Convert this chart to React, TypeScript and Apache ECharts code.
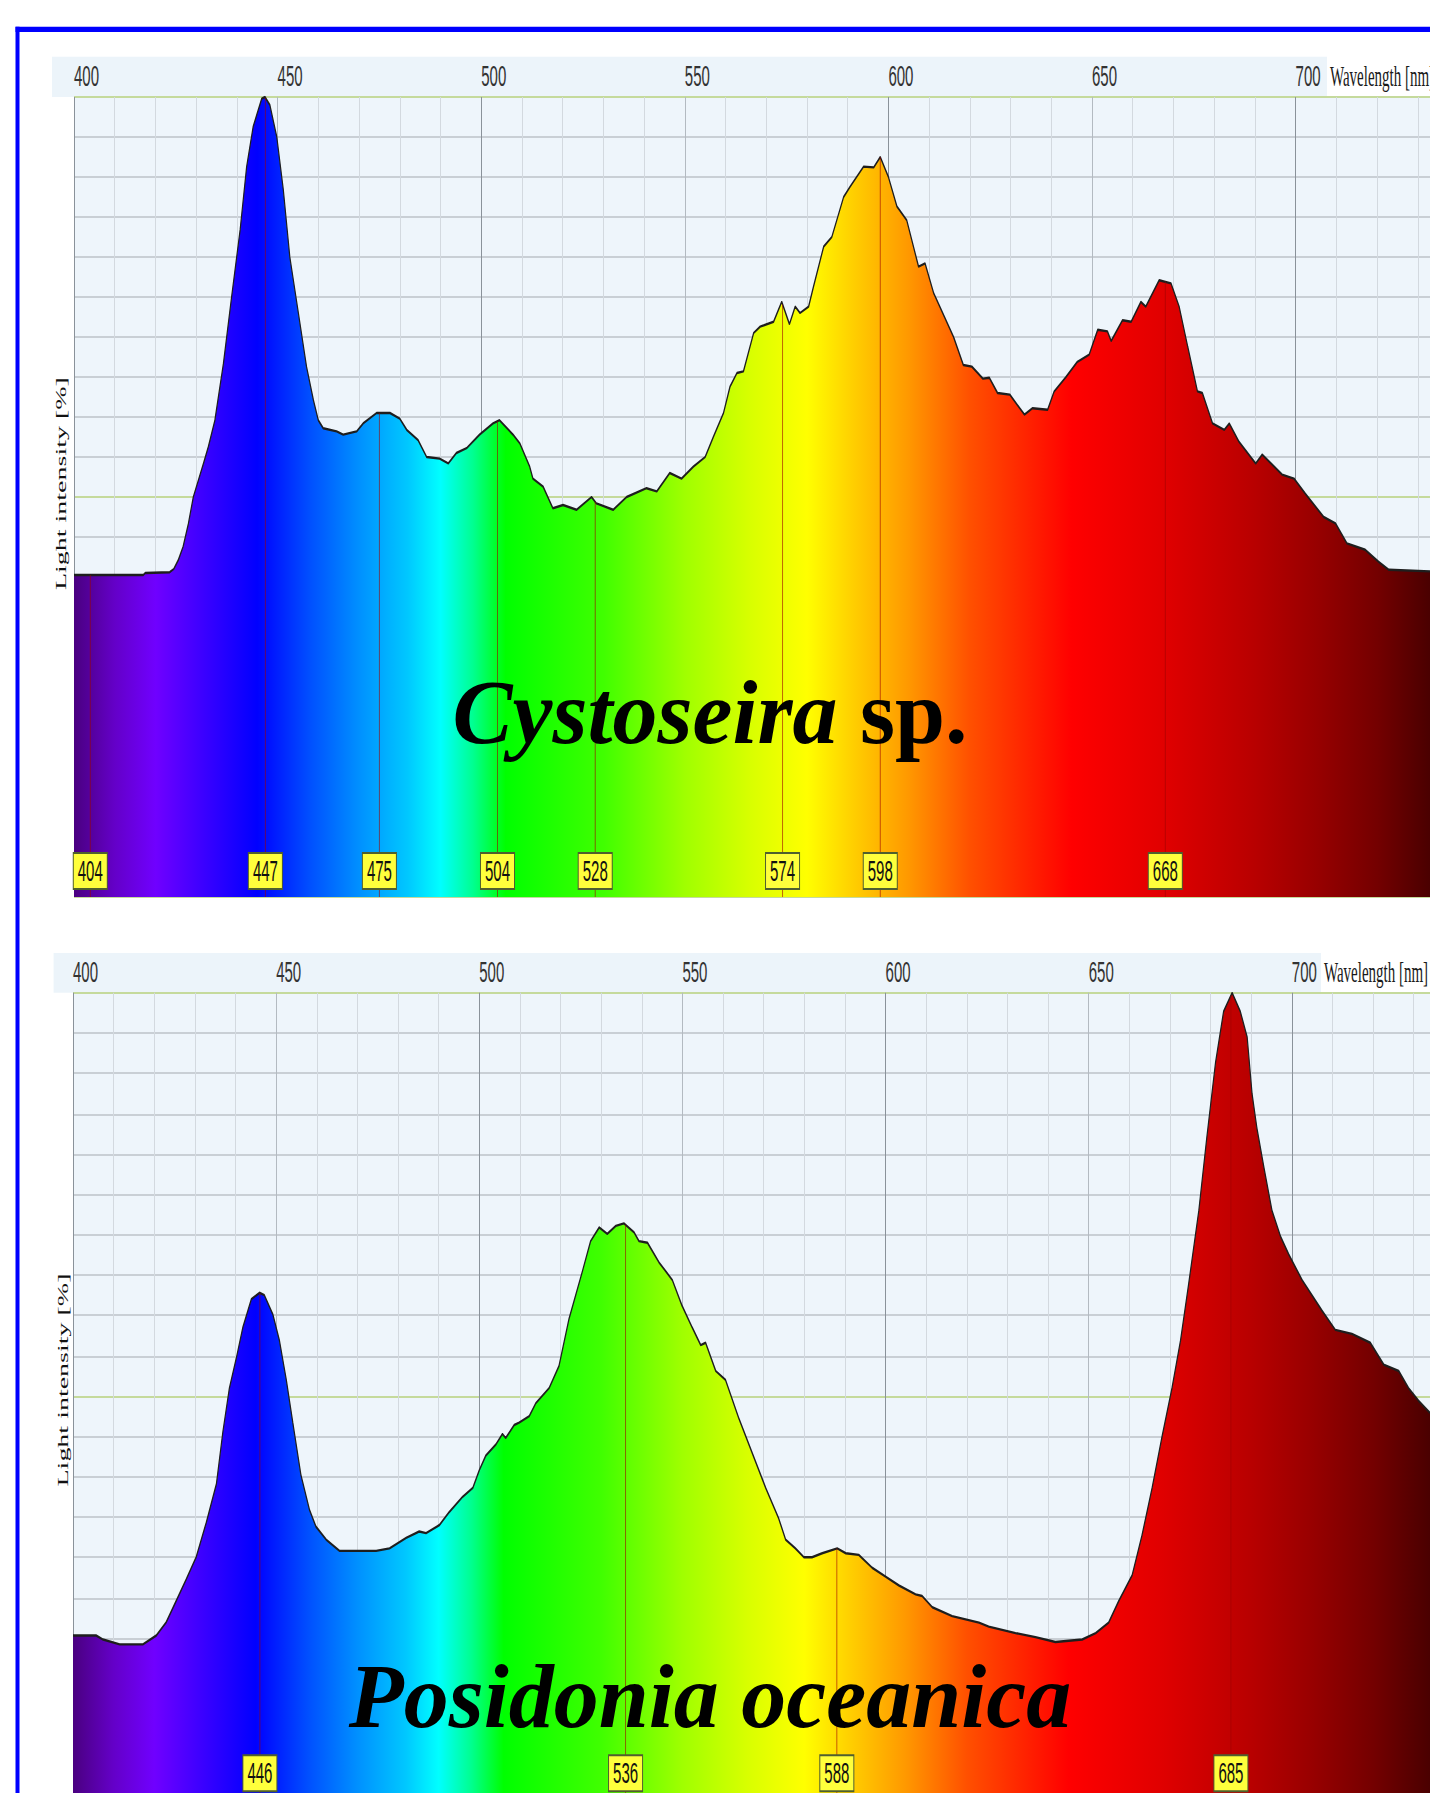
import React, { useEffect, useRef } from "react";
import * as echarts from "echarts";

// ---------- DATA ----------
// Cystoseira sp. (top spectrum)
const cystoWavelength = [400, 417, 417.5, 423.5, 424.5, 425.6, 426.8, 428.1, 429.3, 431.8, 433, 434.6, 436.7, 438.7, 440.8, 442.4, 444, 446.1, 446.9, 448.1, 449.8, 451.4, 453, 455.1, 457.1, 458.8, 460, 461.2, 464.5, 466.1, 469.4, 471, 474.3, 477.6, 480, 481.7, 484.5, 486.6, 489.8, 491.9, 493.9, 496.4, 499.6, 502.9, 504.5, 507.8, 509.5, 511.9, 512.7, 515.2, 517.6, 520.1, 523.4, 527.1, 528.3, 532.4, 535.7, 540.6, 543.1, 546.3, 549.2, 552.1, 555, 557, 559.5, 561.1, 562.8, 564.4, 566.9, 568.5, 571.8, 573.8, 575.7, 577.1, 578.3, 580.4, 581.6, 584.1, 586.1, 589, 590.6, 593.9, 596.4, 598, 600, 602.1, 604.5, 607.4, 609, 611.1, 616, 618.4, 620.5, 623.2, 624.8, 626.8, 629.8, 633.4, 635.4, 639.1, 640.7, 643.6, 646.4, 649.3, 651.4, 653.8, 654.7, 657.5, 659.6, 662, 663.2, 666.5, 669.4, 671.4, 673.5, 675.9, 677.1, 679.6, 682.5, 683.7, 686.1, 690.2, 691.8, 696.7, 699.6, 702.4, 706.9, 709.8, 712.6, 717.1, 720.4, 722.9, 733];
const cystoIntensity = [40.25, 40.25, 40.5, 40.6, 41, 42.1, 43.8, 46.7, 50, 54.2, 56.3, 59.6, 66.7, 75, 83.4, 91.3, 96.3, 99.8, 100, 99, 95, 88.4, 80, 73, 66.3, 62.1, 59.6, 58.6, 58.2, 57.8, 58.2, 59.2, 60.5, 60.5, 59.8, 58.4, 57.1, 55, 54.8, 54.2, 55.5, 56.1, 57.8, 59.2, 59.6, 57.8, 56.7, 53.8, 52.3, 51.3, 48.6, 49, 48.4, 50, 49.2, 48.4, 50, 51.1, 50.7, 53, 52.3, 53.8, 55, 57.5, 60.5, 63.8, 65.5, 65.7, 70.5, 71.3, 71.9, 74.4, 71.6, 73.8, 73, 73.8, 76.3, 81.3, 82.5, 87.5, 88.8, 91.3, 91.2, 92.5, 90, 86.3, 84.6, 78.8, 79.2, 75.5, 70, 66.5, 66.3, 64.8, 64.9, 63, 62.8, 60.3, 61.1, 60.9, 63.2, 65, 66.9, 67.8, 70.9, 70.7, 69.5, 72.1, 71.9, 74.4, 73.8, 77.1, 76.7, 73.8, 68.8, 63.2, 63, 59.2, 58.4, 59.2, 56.9, 54.2, 55.3, 52.8, 52.3, 50.4, 47.5, 46.7, 44.2, 43.4, 41.9, 40.9, 40.7];
const cystoPeaks = [404, 447, 475, 504, 528, 574, 598, 668];

// Posidonia oceanica (bottom spectrum)
const posiWavelength = [400, 405.7, 407.4, 411.5, 417.2, 420.5, 422.9, 425.4, 427.9, 430.3, 432.8, 435.3, 436.9, 438.5, 440.2, 441.8, 443.9, 445.9, 447.1, 449.2, 450.8, 452.5, 454.1, 456.1, 458.2, 459.8, 462.3, 465.6, 468.9, 474.6, 477.9, 482, 485.2, 486.9, 490.2, 492.6, 495.9, 498.4, 500, 501.6, 504.1, 505.7, 506.5, 508.6, 509.8, 512.3, 513.9, 517.2, 519.6, 522.1, 525.4, 527.4, 529.5, 531.5, 533.6, 535.6, 538.1, 539.3, 541.4, 544.2, 547.5, 549.9, 552.4, 554.5, 555.7, 558.2, 560.6, 563.9, 567.2, 570.5, 573.7, 575.4, 577.8, 579.9, 581.9, 584.4, 588.1, 590.2, 593.4, 596.7, 600, 603.3, 607.4, 609, 611.5, 616.4, 623, 625.4, 632, 636.9, 641.8, 648.4, 651.7, 654.9, 657.4, 660.7, 663.1, 665.6, 668.1, 670.5, 672.6, 674.6, 677.1, 679.1, 681.2, 683.2, 685.3, 687.3, 689, 690.2, 691.4, 693.1, 695.1, 697.2, 699.2, 702.5, 707.4, 710.7, 714.8, 719.3, 722.6, 726.3, 728.7, 731.2, 734];
const posiIntensity = [20.3, 20.3, 19.8, 19.2, 19.2, 20.3, 21.9, 24.6, 27.3, 30, 34.3, 39.1, 45.6, 51, 54.7, 58.5, 62, 62.8, 62.5, 60.1, 56.9, 52, 46.7, 40.2, 35.9, 33.8, 32.2, 30.8, 30.8, 30.8, 31.1, 32.4, 33.2, 33, 34, 35.6, 37.5, 38.6, 40.8, 42.6, 44, 45.3, 44.8, 46.4, 46.7, 47.5, 49.1, 51, 53.7, 59.6, 65.5, 69.2, 70.9, 70.1, 71.1, 71.4, 70.3, 69.2, 69, 66.6, 64.4, 61.2, 58.5, 56.3, 56.6, 53.1, 52, 47.2, 42.9, 38.6, 34.8, 32.2, 31.1, 30, 30, 30.5, 31.1, 30.5, 30.3, 28.7, 27.6, 26.5, 25.4, 25.2, 23.8, 22.7, 21.9, 21.4, 20.6, 20.1, 19.5, 19.8, 20.6, 21.9, 24.6, 27.8, 32.7, 38.6, 45.1, 51, 56.9, 63.9, 73, 82.2, 91.3, 97.7, 100, 97.7, 94.5, 87.5, 83.2, 78.4, 73, 69.8, 67.6, 64.4, 60.6, 58.2, 57.7, 56.6, 53.9, 53.1, 51, 49.4, 47.9];
const posiPeaks = [446, 536, 588, 685];

// axis settings
const xMin = 400;
const xMaxTop = 733;
const xMaxBottom = 734;
const xTickStep = 10;
const xLabelStep = 50;
const yMin = 0;
const yMax = 100;
const yTickStep = 5;

const titleTop = "Cystoseira";
const titleTopSuffix = "sp.";
const titleBottom = "Posidonia oceanica";
const xName = "Wavelength [nm]";
const yName = "Light intensity [%]";

// spectrum colour stops (wavelength -> colour)
const spectrumStops: [number, string][] = [
  [400, "#4a0080"], [410, "#6400c8"], [420, "#7000ff"], [432, "#3a00ff"],
  [445, "#0000ff"], [458, "#0050ff"], [470, "#0090ff"], [482, "#00c8ff"],
  [490, "#00ffff"], [498, "#00ff90"], [506, "#00ff00"], [530, "#40ff00"],
  [550, "#a0ff00"], [566, "#d8ff00"], [580, "#ffff00"], [592, "#ffcc00"],
  [605, "#ff9800"], [620, "#ff5000"], [645, "#ff0000"], [668, "#e00000"],
  [690, "#b80000"], [705, "#980000"], [720, "#740000"], [734, "#4a0000"],
];

// ---------- HELPERS ----------
const pairs = (xs: number[], ys: number[]) => xs.map((x, i) => [x, ys[i]]);

function valueAt(xs: number[], ys: number[], x: number) {
  for (let i = 0; i < xs.length - 1; i++) {
    if (x >= xs[i] && x <= xs[i + 1]) {
      const t = (x - xs[i]) / (xs[i + 1] - xs[i]);
      return ys[i] + t * (ys[i + 1] - ys[i]);
    }
  }
  return ys[ys.length - 1];
}

function spectrumGradient(xs: number[]) {
  const a = xs[0];
  const b = xs[xs.length - 1];
  const stops = spectrumStops.map(([nm, c]) => ({
    offset: Math.max(0, Math.min(1, (nm - a) / (b - a))),
    color: c,
  }));
  return new echarts.graphic.LinearGradient(0, 0, 1, 0, stops);
}

// ---------- STYLE ----------
const W = 1430;
const H = 902; // drawn at half height, then stretched 2x vertically
const SANS = "'Liberation Sans', Arial, sans-serif";
const SERIF = "'Liberation Serif', 'Times New Roman', serif";
const PLOT_BG = "#eef5fb";
const BAND_BG = "#ecf4fa";
const X_SPLIT = ["#8a929a", "#d3d9df", "#d3d9df", "#d3d9df", "#d3d9df", "#b3bac1", "#d3d9df", "#d3d9df", "#d3d9df", "#d3d9df"];
const Y_SPLIT = ["#c5da9c", "#c9cfd5", "#c9cfd5", "#c9cfd5", "#c9cfd5", "#c9cfd5", "#c9cfd5", "#c9cfd5", "#c9cfd5", "#c9cfd5"];
const MARK_COLOR = "rgba(160,0,0,0.6)";

function xAxisFor(gridIndex: number, max: number) {
  return {
    type: "value",
    gridIndex,
    position: "top",
    min: xMin,
    max,
    interval: xTickStep,
    axisLine: { show: false },
    axisTick: { show: false },
    axisLabel: {
      show: true,
      showMaxLabel: false,
      formatter: (v: number) => (Math.round(v) % xLabelStep === 0 ? String(Math.round(v)) : ""),
      align: "left",
      margin: 3,
      fontSize: 15,
      fontFamily: SANS,
      color: "#333",
    },
    splitLine: { show: true, lineStyle: { color: X_SPLIT, width: 1 } },
  };
}

function yAxisFor(gridIndex: number) {
  return {
    type: "value",
    gridIndex,
    min: yMin,
    max: yMax,
    interval: yTickStep,
    axisLine: { show: false },
    axisTick: { show: false },
    axisLabel: { show: false },
    splitLine: { show: true, lineStyle: { color: Y_SPLIT, width: 1 } },
  };
}

function seriesFor(idx: number, xs: number[], ys: number[], peaks: number[]) {
  return [
    {
      type: "line",
      xAxisIndex: idx,
      yAxisIndex: idx,
      data: pairs(xs, ys),
      showSymbol: false,
      symbol: "none",
      smooth: false,
      lineStyle: { color: "#1e1e1e", width: 1.2 },
      areaStyle: { color: spectrumGradient(xs), opacity: 1, origin: "start" },
      z: 2,
      silent: true,
    },
    {
      type: "bar",
      xAxisIndex: idx,
      yAxisIndex: idx,
      data: peaks.map((p) => [p, valueAt(xs, ys, p)]),
      barWidth: 1,
      itemStyle: { color: MARK_COLOR },
      z: 3,
      silent: true,
    },
    {
      type: "scatter",
      xAxisIndex: idx,
      yAxisIndex: idx,
      data: peaks.map((p) => [p, yMin]),
      symbolSize: 0,
      itemStyle: { opacity: 1 },
      z: 5,
      silent: true,
      label: {
        show: true,
        position: "top",
        distance: 4.5,
        formatter: (p: any) => String(p.value[0]),
        fontSize: 15,
        lineHeight: 15,
        fontFamily: SANS,
        color: "#111",
        backgroundColor: "#ffff3c",
        borderColor: "#4f5f2f",
        borderWidth: 1,
        padding: [1, 4, 1, 4],
      },
    },
  ];
}

const option: any = {
  animation: false,
  backgroundColor: "#ffffff",
  grid: [
    { left: 74, right: 0, top: 48.5, height: 400, show: true, backgroundColor: PLOT_BG, borderWidth: 0, containLabel: false, outerBoundsMode: "none" },
    { left: 73, right: 0, top: 496.4, height: 403.2, show: true, backgroundColor: PLOT_BG, borderWidth: 0, containLabel: false, outerBoundsMode: "none" },
  ],
  xAxis: [xAxisFor(0, xMaxTop), xAxisFor(1, xMaxBottom)],
  yAxis: [yAxisFor(0), yAxisFor(1)],
  series: [
    ...seriesFor(0, cystoWavelength, cystoIntensity, cystoPeaks),
    ...seriesFor(1, posiWavelength, posiIntensity, posiPeaks),
  ],
  graphic: [
    // header bands
    { type: "rect", z: 0, shape: { x: 52, y: 28.4, width: 1275, height: 20.1 }, style: { fill: BAND_BG } },
    { type: "rect", z: 0, shape: { x: 53.6, y: 476.5, width: 1267.4, height: 19.9 }, style: { fill: BAND_BG } },
    // axis names
    { type: "text", z: 10, x: 1330, y: 38, style: { text: xName, fontSize: 15, fontFamily: SERIF, fill: "#1a1a1a", align: "left", verticalAlign: "middle" } },
    { type: "text", z: 10, x: 1324, y: 486, style: { text: xName, fontSize: 15, fontFamily: SERIF, fill: "#1a1a1a", align: "left", verticalAlign: "middle" } },
    { type: "text", z: 10, x: 61.5, y: 241.8, rotation: Math.PI / 2, style: { text: yName, fontSize: 14, fontFamily: SERIF, fill: "#111", align: "center", verticalAlign: "middle" } },
    { type: "text", z: 10, x: 63, y: 690, rotation: Math.PI / 2, style: { text: yName, fontSize: 14, fontFamily: SERIF, fill: "#111", align: "center", verticalAlign: "middle" } },
    // species titles (compensate the vertical stretch)
    {
      type: "text", z: 100, x: 710, y: 356, scaleY: 0.5,
      style: {
        text: `{i|${titleTop}} {b|${titleTopSuffix}}`,
        fontSize: 90, fontFamily: SERIF, fontWeight: "bold", fill: "#000",
        align: "center", verticalAlign: "middle",
        rich: {
          i: { fontSize: 90, fontFamily: SERIF, fontWeight: "bold", fontStyle: "italic", fill: "#000" },
          b: { fontSize: 90, fontFamily: SERIF, fontWeight: "bold", fill: "#000" },
        },
      },
    },
    {
      type: "text", z: 100, x: 710, y: 848, scaleY: 0.5,
      style: {
        text: titleBottom, fontSize: 90, fontFamily: SERIF, fontWeight: "bold", fontStyle: "italic", fill: "#000",
        align: "center", verticalAlign: "middle",
      },
    },
    // blue frame
    { type: "rect", z: 100, shape: { x: 15.5, y: 13.4, width: W - 15.5, height: 2.6 }, style: { fill: "#0000ff" } },
    { type: "rect", z: 100, shape: { x: 15.5, y: 13.4, width: 4, height: H }, style: { fill: "#0000ff" } },
  ],
};

export default function App() {
  const ref = useRef<HTMLDivElement>(null);
  useEffect(() => {
    if (!ref.current) return;
    const chart = echarts.init(ref.current, null, { renderer: "svg" });
    chart.setOption(option);
    return () => chart.dispose();
  }, []);
  return (
    <div
      ref={ref}
      style={{
        position: "fixed",
        left: 0,
        top: 0,
        width: W,
        height: H,
        transform: "scaleY(2)",
        transformOrigin: "0 0",
        background: "#fff",
      }}
    />
  );
}
